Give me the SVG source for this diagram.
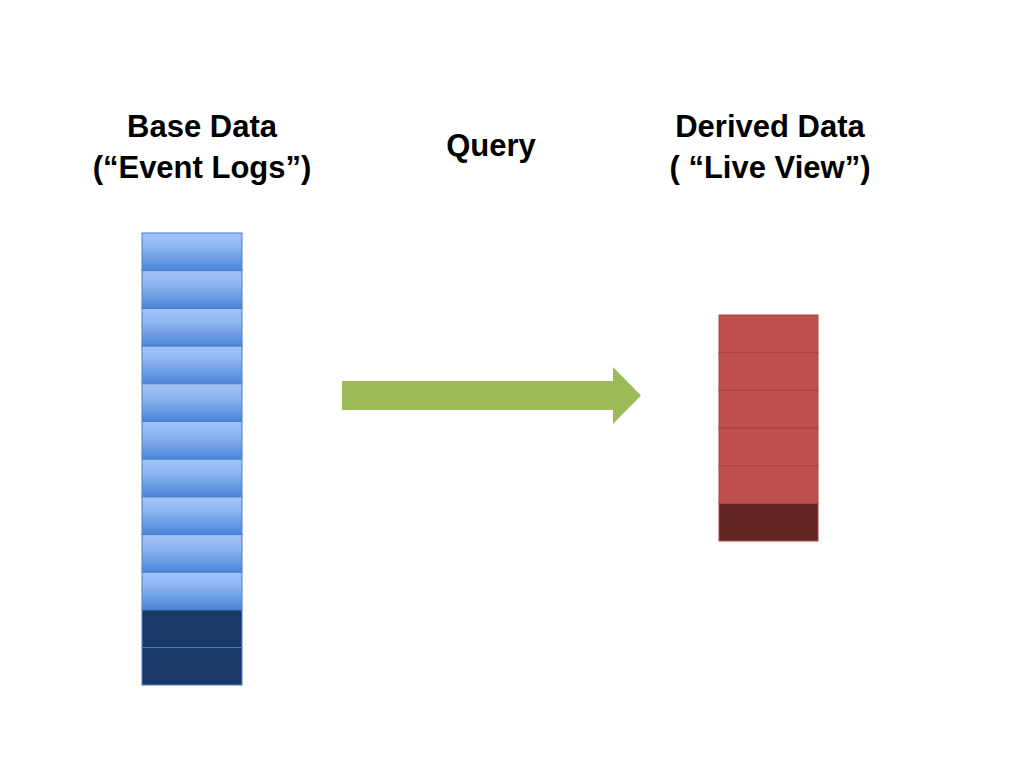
<svg xmlns="http://www.w3.org/2000/svg" width="1024" height="768" viewBox="0 0 1024 768">
<defs>
<linearGradient id="bg" x1="0" y1="0" x2="0" y2="1">
<stop offset="0" stop-color="#a3c4fa"/><stop offset="0.35" stop-color="#8fb6f2"/><stop offset="1" stop-color="#4a86d8"/>
</linearGradient>
<style>
.t{font-family:"Liberation Sans",Arial,sans-serif;font-weight:bold;font-size:31px;fill:#000;text-anchor:middle}
.b{fill:url(#bg);stroke:#4a7ec4;stroke-width:1}
.bd{fill:#193a66;stroke:#4a7ec4;stroke-width:1}
.r{fill:#c0504d;stroke:#a94340;stroke-width:1}
.rd{fill:#632524;stroke:#a94340;stroke-width:1}
</style>
</defs>
<rect width="1024" height="768" fill="#fff"/>
<text class="t" x="202" y="137">Base Data</text>
<text class="t" x="202" y="178">(“Event Logs”)</text>
<text class="t" x="491" y="156">Query</text>
<text class="t" x="770" y="137">Derived Data</text>
<text class="t" x="770" y="178">( “Live View”)</text>
<g id="base">
<rect class="b" x="142" y="233" width="100" height="37.7"/>
<rect class="b" x="142" y="270.7" width="100" height="37.7"/>
<rect class="b" x="142" y="308.4" width="100" height="37.7"/>
<rect class="b" x="142" y="346.1" width="100" height="37.7"/>
<rect class="b" x="142" y="383.8" width="100" height="37.7"/>
<rect class="b" x="142" y="421.5" width="100" height="37.7"/>
<rect class="b" x="142" y="459.2" width="100" height="37.7"/>
<rect class="b" x="142" y="496.9" width="100" height="37.7"/>
<rect class="b" x="142" y="534.6" width="100" height="37.7"/>
<rect class="b" x="142" y="572.3" width="100" height="37.7"/>
<rect class="bd" x="142" y="610" width="100" height="37.5"/>
<rect class="bd" x="142" y="647.5" width="100" height="37.5"/>
</g>
<g id="connectors">
<polygon points="342,381 613,381 613,367 641,395.5 613,424 613,410 342,410" fill="#9bbb59"/>
</g>
<g id="derived">
<rect class="r" x="719" y="315" width="99" height="37.7"/>
<rect class="r" x="719" y="352.7" width="99" height="37.7"/>
<rect class="r" x="719" y="390.4" width="99" height="37.7"/>
<rect class="r" x="719" y="428.1" width="99" height="37.7"/>
<rect class="r" x="719" y="465.8" width="99" height="37.7"/>
<rect class="rd" x="719" y="503.5" width="99" height="37.5"/>
</g>
</svg>
